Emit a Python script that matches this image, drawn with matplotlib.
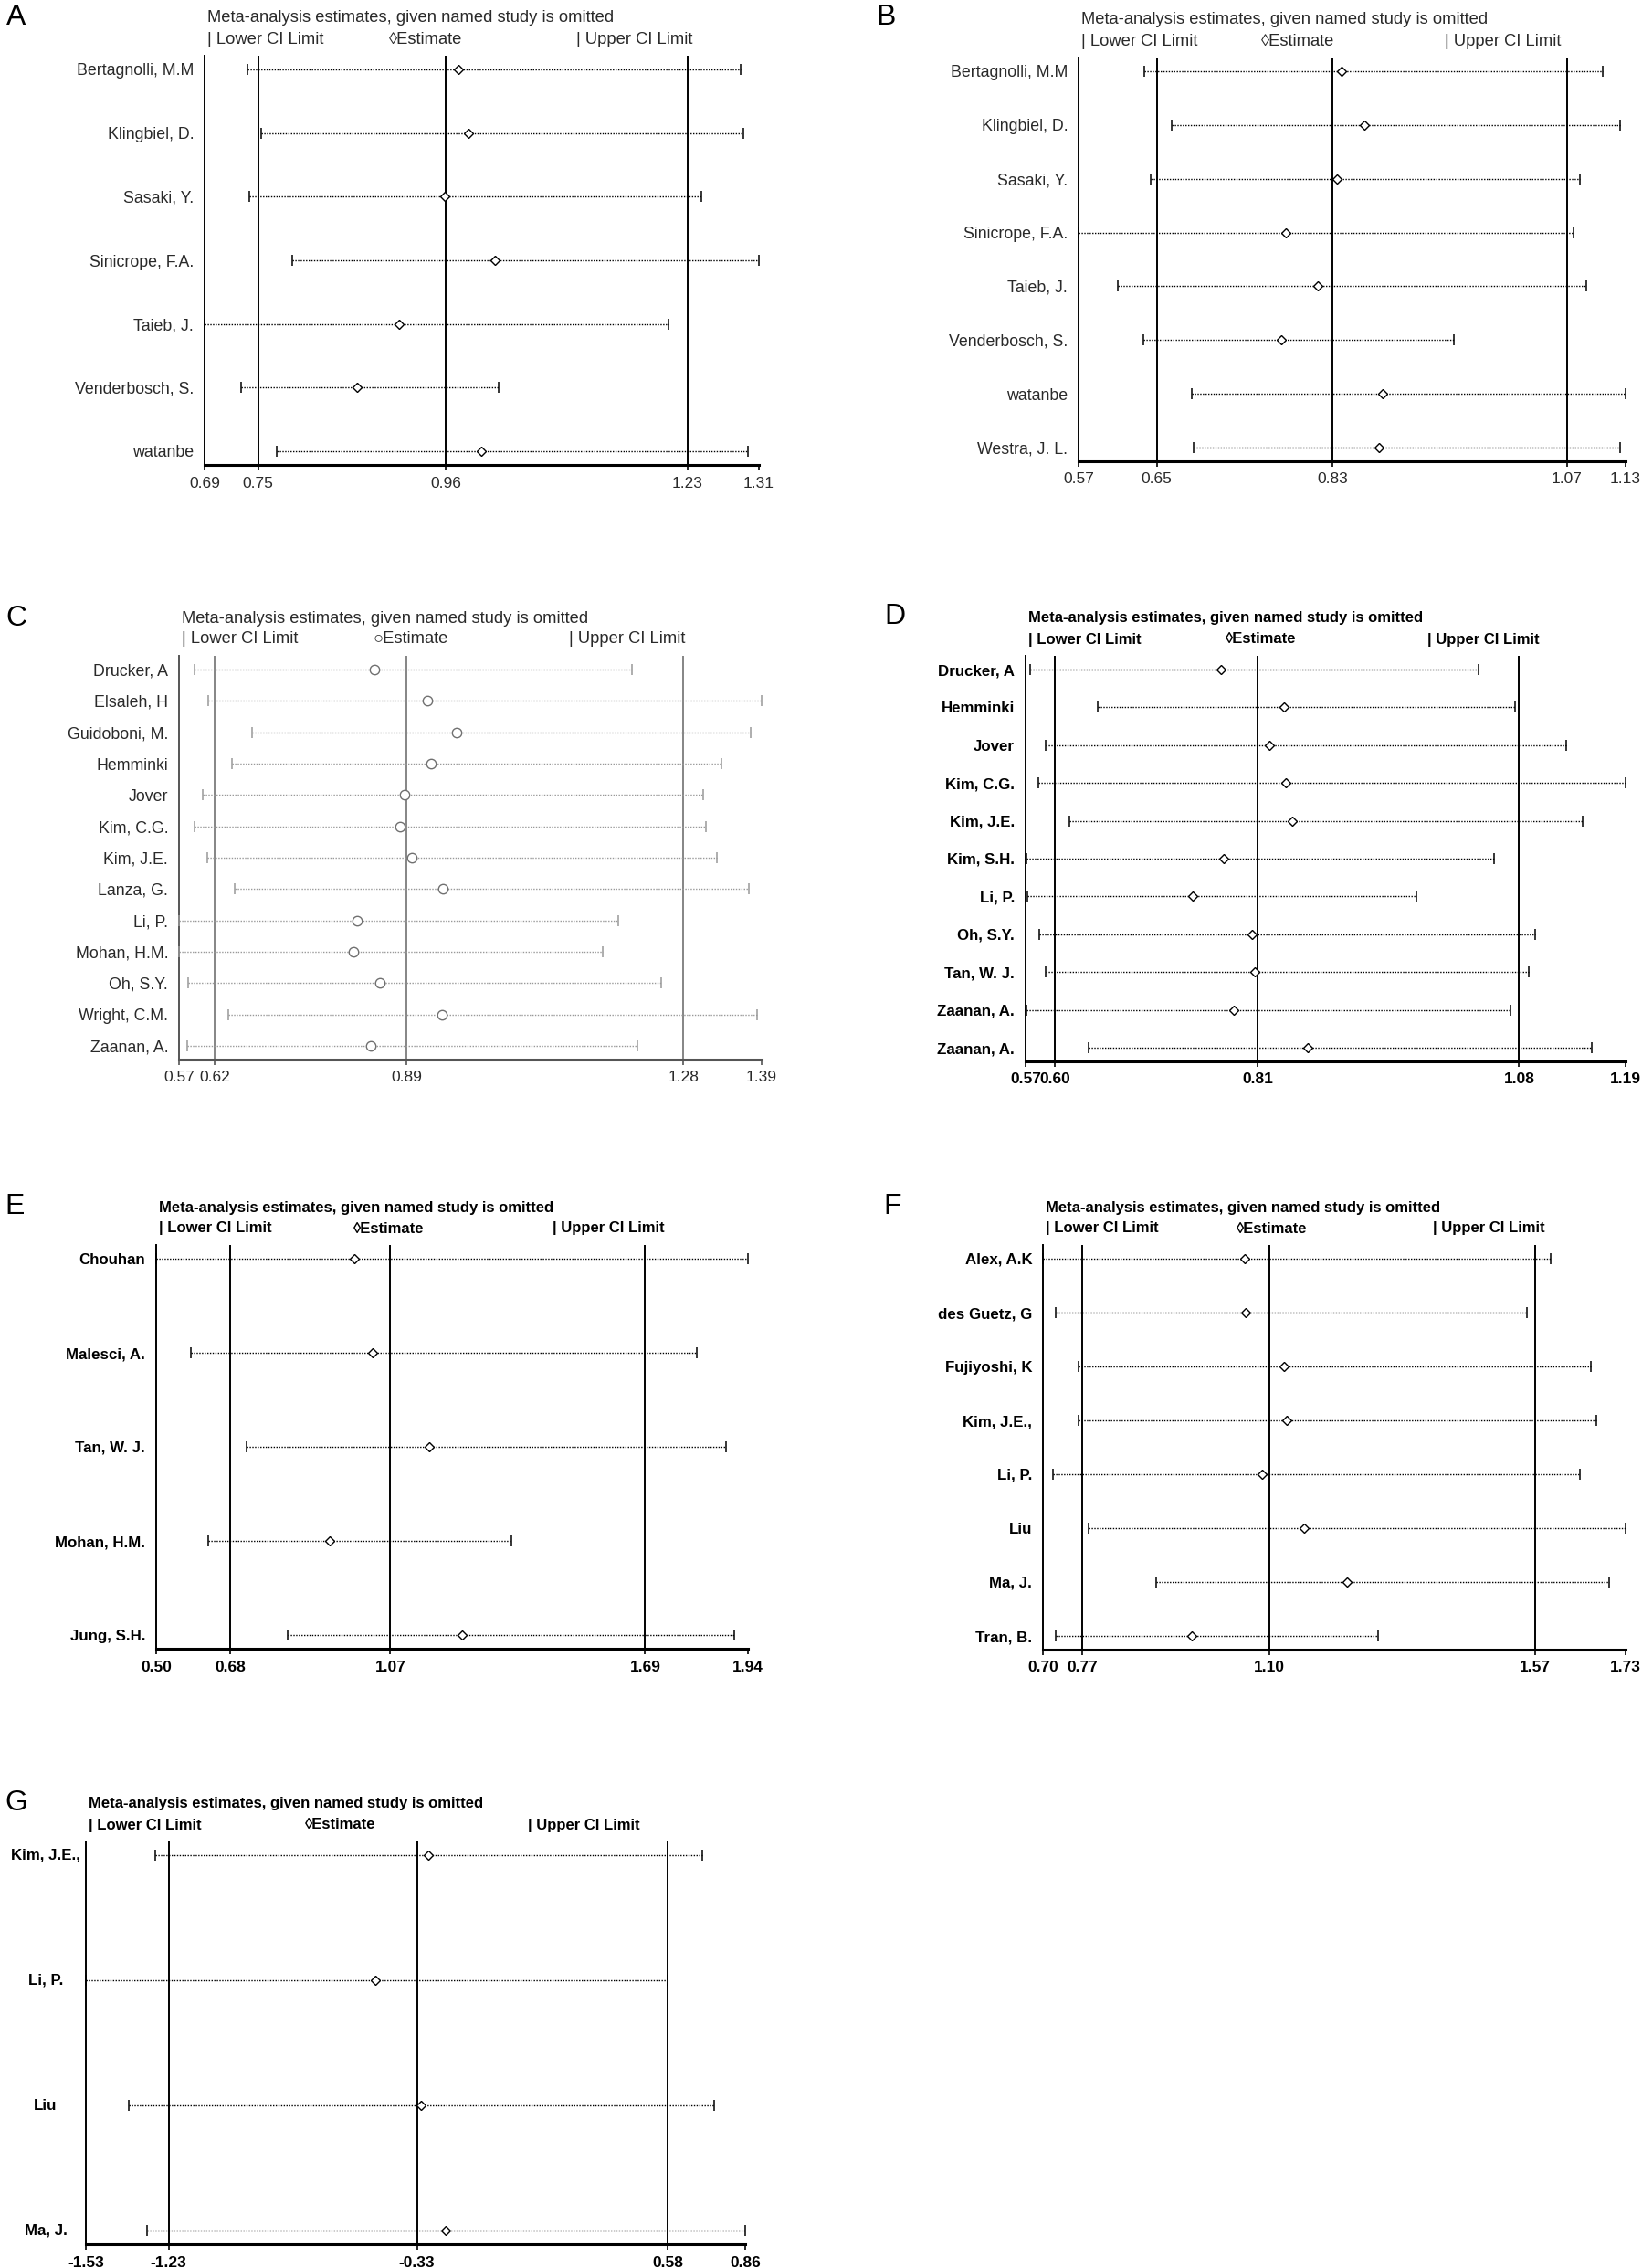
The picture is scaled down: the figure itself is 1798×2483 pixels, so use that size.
import numpy as np
import matplotlib.pyplot as plt
from matplotlib.transforms import blended_transform_factory

plt.rcParams['font.family'] = ['Liberation Sans', 'DejaVu Sans']

W, H = 1799, 2483
DPI = 100

TITLE = 'Meta-analysis estimates, given named study is omitted'

# ---- data ----
a_names = ['Bertagnolli, M.M', 'Klingbiel, D.', 'Sasaki, Y.', 'Sinicrope, F.A.',
           'Taieb, J.', 'Venderbosch, S.', 'watanbe']
a_lo = [0.738, 0.753, 0.740, 0.788, 0.69, 0.731, 0.771]
a_est = [0.974, 0.985, 0.959, 1.015, 0.908, 0.861, 0.999]
a_hi = [1.290, 1.293, 1.246, 1.310, 1.209, 1.019, 1.298]
a_ticks = [0.69, 0.75, 0.96, 1.23, 1.31]

b_names = ['Bertagnolli, M.M', 'Klingbiel, D.', 'Sasaki, Y.', 'Sinicrope, F.A.',
           'Taieb, J.', 'Venderbosch, S.', 'watanbe', 'Westra, J. L.']
b_lo = [0.637, 0.665, 0.644, 0.57, 0.610, 0.636, 0.686, 0.688]
b_est = [0.839, 0.863, 0.835, 0.782, 0.815, 0.778, 0.881, 0.878]
b_hi = [1.107, 1.124, 1.083, 1.077, 1.090, 0.954, 1.13, 1.124]
b_ticks = [0.57, 0.65, 0.83, 1.07, 1.13]

c_names = ['Drucker, A', 'Elsaleh, H', 'Guidoboni, M.', 'Hemminki', 'Jover', 'Kim, C.G.',
           'Kim, J.E.', 'Lanza, G.', 'Li, P.', 'Mohan, H.M.', 'Oh, S.Y.', 'Wright, C.M.',
           'Zaanan, A.']
c_lo = [0.592, 0.611, 0.673, 0.644, 0.603, 0.592, 0.610, 0.648, 0.57, 0.57, 0.583, 0.639, 0.582]
c_est = [0.845, 0.920, 0.961, 0.925, 0.887, 0.881, 0.898, 0.941, 0.821, 0.815, 0.853, 0.940, 0.840]
c_hi = [1.208, 1.390, 1.374, 1.333, 1.308, 1.312, 1.327, 1.372, 1.188, 1.167, 1.249, 1.384, 1.215]
c_ticks = [0.57, 0.62, 0.89, 1.28, 1.39]

d_names = ['Drucker, A', 'Hemminki', 'Jover', 'Kim, C.G.', 'Kim, J.E.', 'Kim, S.H.',
           'Li, P.', 'Oh, S.Y.', 'Tan, W. J.', 'Zaanan, A.', 'Zaanan, A.']
d_lo = [0.575, 0.645, 0.591, 0.583, 0.615, 0.571, 0.572, 0.584, 0.591, 0.571, 0.635]
d_est = [0.772, 0.837, 0.822, 0.839, 0.846, 0.775, 0.743, 0.804, 0.807, 0.785, 0.862]
d_hi = [1.038, 1.076, 1.129, 1.19, 1.146, 1.054, 0.974, 1.097, 1.090, 1.071, 1.155]
d_ticks = [0.57, 0.60, 0.81, 1.08, 1.19]

e_names = ['Chouhan', 'Malesci, A.', 'Tan, W. J.', 'Mohan, H.M.', 'Jung, S.H.']
e_lo = [0.50, 0.585, 0.720, 0.627, 0.819]
e_est = [0.982, 1.027, 1.164, 0.923, 1.245]
e_hi = [1.94, 1.816, 1.887, 1.364, 1.906]
e_ticks = [0.50, 0.68, 1.07, 1.69, 1.94]

f_names = ['Alex, A.K', 'des Guetz, G', 'Fujiyoshi, K', 'Kim, J.E.,', 'Li, P.', 'Liu',
           'Ma, J.', 'Tran, B.']
f_lo = [0.70, 0.723, 0.763, 0.763, 0.717, 0.781, 0.900, 0.723]
f_est = [1.056, 1.059, 1.126, 1.131, 1.087, 1.162, 1.237, 0.963]
f_hi = [1.597, 1.555, 1.668, 1.679, 1.650, 1.73, 1.701, 1.292]
f_ticks = [0.70, 0.77, 1.10, 1.57, 1.73]

g_names = ['Kim, J.E.,', 'Li, P.', 'Liu', 'Ma, J.']
g_lo = [-1.279, -1.53, -1.373, -1.307]
g_est = [-0.288, -0.481, -0.314, -0.226]
g_hi = [0.706, 0.578, 0.748, 0.86]
g_ticks = [-1.53, -1.23, -0.33, 0.58, 0.86]


fig = plt.figure(figsize=(W / DPI, H / DPI), dpi=DPI)


def panel(rect, letter, letter_xy, names, lo, est, hi, ticks,
          bold=False, gray=False, left_labels=False):
    x0, y0, x1, y1 = rect
    ax = fig.add_axes([x0 / W, 1 - y1 / H, (x1 - x0) / W, (y1 - y0) / H])
    n = len(names)
    rows = np.arange(n)
    step = (y1 - y0 - 30) / (n - 1)
    pad = 15 / step
    ax.set_ylim(n - 1 + pad, -pad)
    ax.set_xlim(ticks[0], ticks[-1])

    weight = 'bold' if bold else 'normal'
    tc = 'black' if bold else '#2a2a2a'
    fs = 12.2 if bold else 12.8

    if gray:
        vline_c, dot_c, mk_c, spine_c = '#858585', '#999999', '#707070', '#555555'
        mk = 'o'
        ms = 7.5
    else:
        vline_c, dot_c, mk_c, spine_c = 'black', 'black', 'black', 'black'
        mk = 'D'
        ms = 5

    for v in ticks[1:-1]:
        ax.axvline(v, color=vline_c, lw=1.4, zorder=1)

    ax.hlines(rows, lo, hi, colors=dot_c, linestyles=(0, (1, 1.1)), lw=1.0, zorder=2)
    ax.plot(lo, rows, '|', color=dot_c, ms=9, mew=1.1,
            ls='none', clip_on=False, zorder=3)
    ax.plot(hi, rows, '|', color=dot_c, ms=9, mew=1.1,
            ls='none', clip_on=False, zorder=3)
    ax.plot(est, rows, mk, mfc='white', mec=mk_c, mew=1.0, ms=ms,
            ls='none', zorder=4)

    for s in ['top', 'right']:
        ax.spines[s].set_visible(False)
    ax.spines['left'].set_linewidth(1.4)
    ax.spines['left'].set_color(spine_c)
    ax.spines['bottom'].set_linewidth(2.2)
    ax.spines['bottom'].set_color(spine_c)

    ax.set_xticks(ticks)
    ax.set_xticklabels([f'{v:.2f}' for v in ticks], fontsize=12.5,
                       fontweight=weight, color=tc)
    ax.tick_params(axis='x', length=4, width=1.2, pad=5, color=spine_c)

    if left_labels:
        ax.set_yticks([])
        tr = blended_transform_factory(fig.transFigure, ax.transData)
        for r, name in zip(rows, names):
            ax.text(50 / W, r, name, transform=tr, ha='center', va='center',
                    fontsize=fs, fontweight=weight, color=tc)
    else:
        ax.set_yticks(rows)
        ax.set_yticklabels(names, fontsize=fs, fontweight=weight, color=tc)
        ax.tick_params(axis='y', length=0, pad=8.5)

    # header text above the plot
    tfs = 12.0 if bold else 13.2
    ty = 1 - (y0 - 41) / H
    ly = 1 - (y0 - 18) / H
    wpx = x1 - x0
    fig.text((x0 + 3) / W, ty, TITLE, ha='left', va='center', fontsize=tfs,
             fontweight=weight, color=tc)
    sym = '\u25cb' if gray else '\u25ca'
    fig.text((x0 + 3) / W, ly, '| Lower CI Limit', ha='left', va='center',
             fontsize=tfs, fontweight=weight, color=tc)
    fig.text((x0 + 0.333 * wpx) / W, ly, sym + 'Estimate', ha='left', va='center',
             fontsize=tfs, fontweight=weight, color=tc)
    fig.text((x0 + 0.67 * wpx) / W, ly, '| Upper CI Limit', ha='left', va='center',
             fontsize=tfs, fontweight=weight, color=tc)

    fig.text(letter_xy[0] / W, 1 - letter_xy[1] / H, letter, ha='center', va='center',
             fontsize=23, color='black')
    return ax


panel((224, 61, 831, 509), 'A', (18, 19), a_names, a_lo, a_est, a_hi, a_ticks)
panel((1181, 63, 1780, 505), 'B', (970, 19), b_names, b_lo, b_est, b_hi, b_ticks)
panel((196, 718, 834, 1160), 'C', (18, 677), c_names, c_lo, c_est, c_hi, c_ticks,
      gray=True)
panel((1123, 718, 1780, 1162), 'D', (980, 675), d_names, d_lo, d_est, d_hi, d_ticks,
      bold=True)
panel((171, 1363, 819, 1805), 'E', (16, 1321), e_names, e_lo, e_est, e_hi, e_ticks,
      bold=True)
panel((1142, 1363, 1780, 1806), 'F', (977, 1321), f_names, f_lo, f_est, f_hi, f_ticks,
      bold=True)
panel((94, 2016, 816, 2457), 'G', (18, 1974), g_names, g_lo, g_est, g_hi, g_ticks,
      bold=True, left_labels=True)

fig.savefig('out.png', dpi=DPI, facecolor='white')
